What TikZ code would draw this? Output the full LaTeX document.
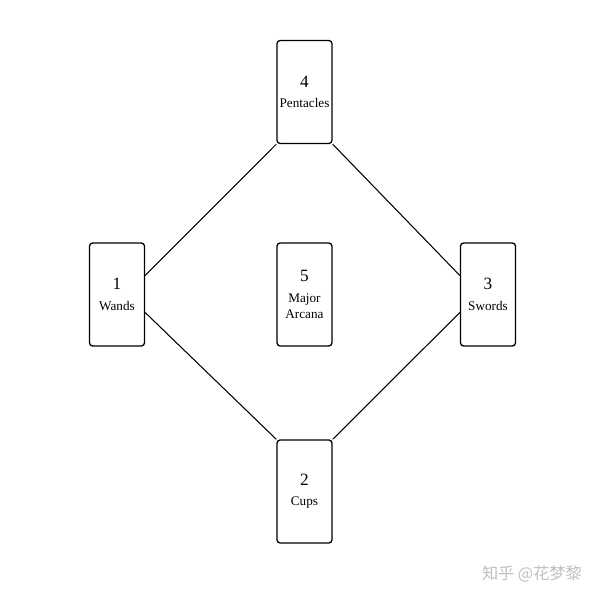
\documentclass[tikz,border=0pt]{standalone}
\usepackage{fontspec}
\setmainfont{Liberation Serif}
\newfontfamily\cjk{Noto Sans CJK SC}

\newcommand{\cardnum}[1]{{\fontsize{9.8}{9.8}\selectfont #1}}

\begin{document}
\begin{tikzpicture}[
    card/.style={draw, line width=0.75pt, rounded corners=1.8pt,
        minimum width=1.1cm, minimum height=2.06cm, inner sep=0pt,
        align=center, font=\fontsize{7.5}{9}\selectfont},
    link/.style={line width=0.6pt}]
    \useasboundingbox (0, 0) rectangle (12, 12);

    % 五张牌
    \node[card] (C4) at (6.09, 10.16) {\cardnum{4}\\[2.6pt]Pentacles};
    \node[card] (C1) at (2.34, 6.11) {\cardnum{1}\\[2.6pt]Wands};
    \node[card] (C5) at (6.09, 6.11) {\cardnum{5}\\[2.6pt]Major\\Arcana};
    \node[card] (C3) at (9.76, 6.11) {\cardnum{3}\\[2.6pt]Swords};
    \node[card] (C2) at (6.09, 2.17) {\cardnum{2}\\[2.6pt]Cups};

    % 菱形连线
    \draw[link] ([yshift=0.38cm]C1.east) -- (C4.south west);
    \draw[link] ([yshift=-0.36cm]C1.east) -- (C2.north west);
    \draw[link] ([yshift=0.38cm]C3.west) -- (C4.south east);
    \draw[link] ([yshift=-0.36cm]C3.west) -- (C2.north east);

    % 水印
    \node[anchor=east, text=black!25, font=\cjk\fontsize{9.2}{11}\selectfont] (mark) at (11.76, 0.52) {知乎 @花梦黎};
\end{tikzpicture}
\end{document}
